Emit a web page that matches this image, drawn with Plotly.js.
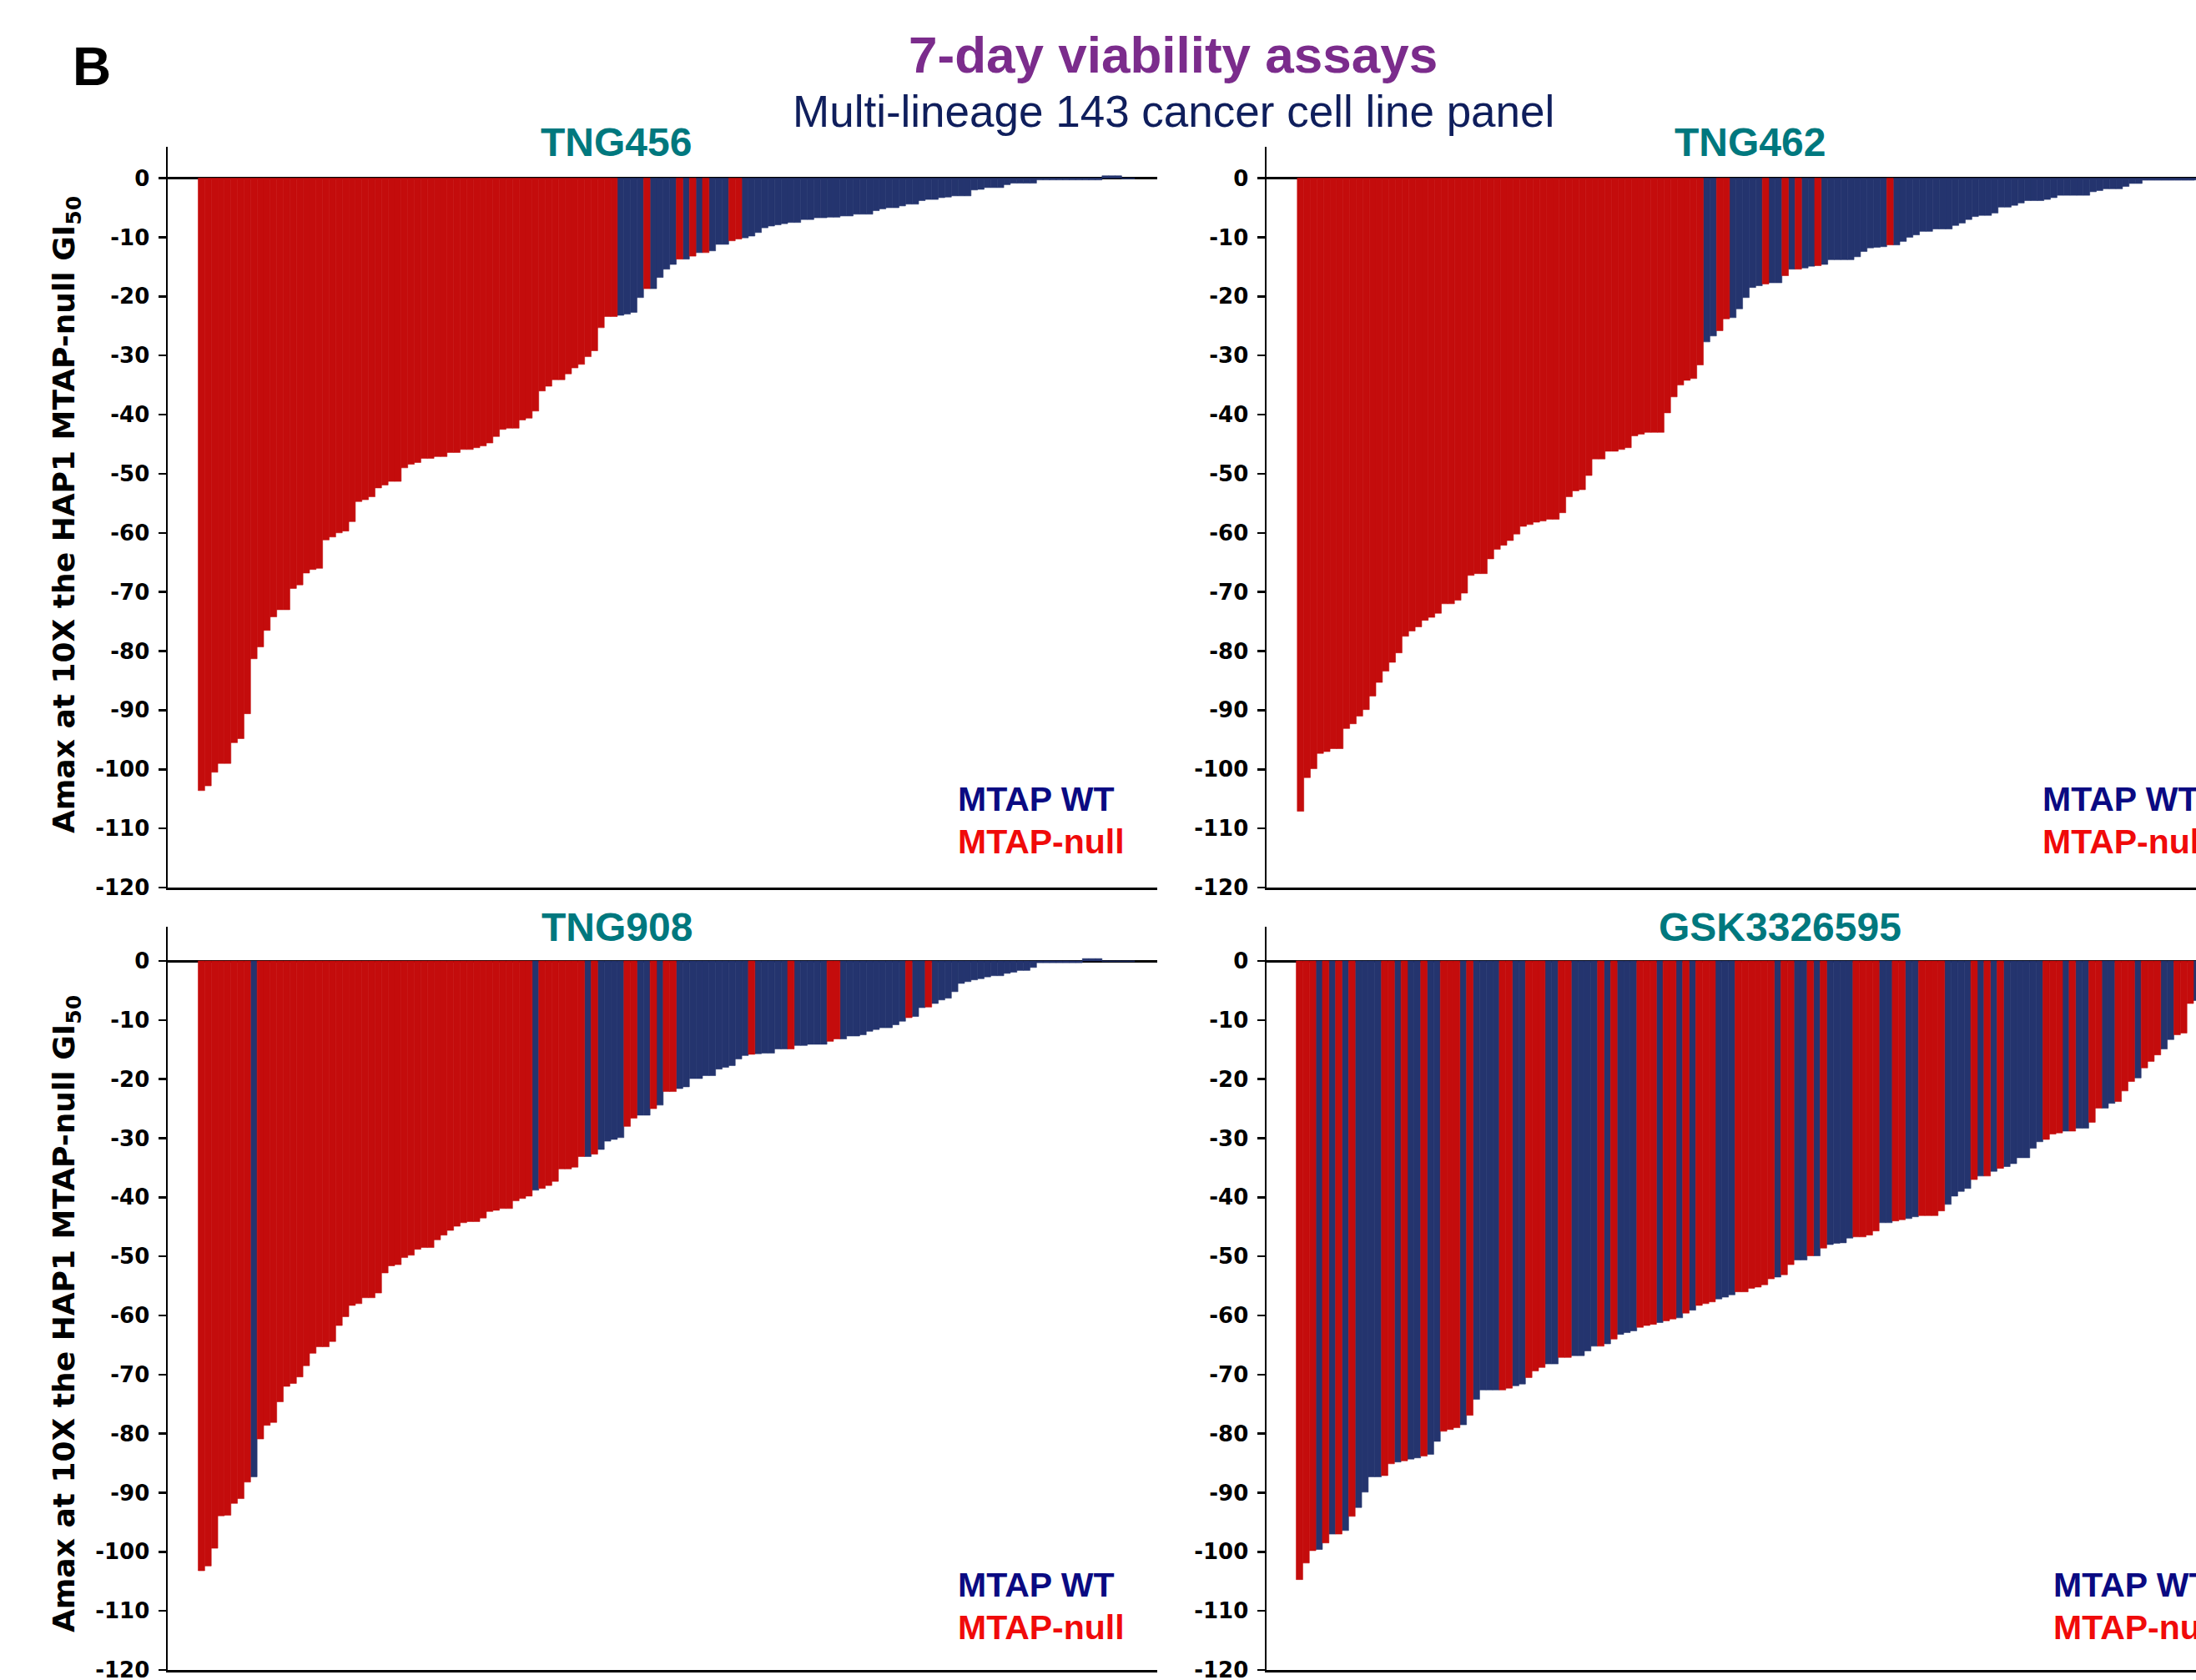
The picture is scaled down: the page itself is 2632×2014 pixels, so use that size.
<!DOCTYPE html>
<html>
<head>
<meta charset="utf-8">
<script src="https://cdn.plot.ly/plotly-3.0.1.min.js"></script>
<style>
html,body{margin:0;padding:0;background:#fff;overflow:hidden;}
#chart{width:2632px;height:2014px;}
</style>
</head>
<body>
<div id="chart"></div>
<script>
// ---------------- DATA ----------------
// status: N = MTAP-null, W = MTAP WT (one character per cell line, rank order)
const tng456Values = [
-103.6,-102.8,-100.5,-99,-99,-95.5,-94.8,-90.6,-81.3,-79.3,
-76.5,-74.2,-73,-73,-69.4,-68.8,-66.8,-66.2,-66,-61.2,
-60.7,-60,-59.7,-58.1,-54.7,-54.4,-53.9,-52.4,-51.9,-51.3,
-51.3,-49,-48.4,-48.1,-47.4,-47.4,-47.1,-47.1,-46.4,-46.4,
-45.9,-45.9,-45.6,-45.3,-44.8,-43.7,-42.5,-42.3,-42.3,-40.9,
-40.6,-39.4,-36,-35.2,-34.1,-34.1,-33.1,-32.1,-31.5,-30.2,
-29.2,-25.3,-23.4,-23.4,
-23.2,-23.0,-22.7,-20.2,-18.7,-18.7,-16.8,-15.4,-14.6,-13.7,
-13.7,-13.2,-12.6,-12.6,-12.3,-11.2,-11.2,-10.6,-10.3,-10.1,
-9.8,-9.2,-8.4,-8.1,-7.9,-7.7,-7.5,-7.5,-7.0,-7.0,
-6.7,-6.7,-6.6,-6.6,-6.4,-6.4,-6.1,-6.1,-6.1,-5.5,
-5.2,-5.0,-5.0,-4.7,-4.4,-4.4,-3.8,-3.6,-3.6,-3.3,
-3.2,-3.0,-3.0,-3.0,-2.0,-1.9,-1.6,-1.6,-1.6,-1.1,
-0.85,-0.85,-0.85,-0.85,-0.3,-0.3,-0.3,-0.3,-0.3,-0.3,
-0.3,-0.3,-0.3,-0.3,0.4,0.4,0.4,-0.1,-0.1
];
const tng456Status =
"NNNNNNNNNNNNNNNNNNNNNNNNNNNNNNNNNNNNNNNNNNNNNNNNNNNNNNNNNNNNNNNN" +
"WWWWNWWWWNWNWNWWWNN" +
"WWWWWWWWWWWWWWWWWWWWWWWWWWWWWWWWWWWWWWWWWWWWWWWWWWWWWWWWWWWW";

const tng462Values = [
-107.1,-101.4,-99.9,-97.3,-97,-96.5,-96.5,-93.1,-92.3,-91,
-89.9,-87.6,-85.3,-83.4,-81.9,-80.3,-77.5,-76.6,-75.9,-74.8,
-74.3,-73.6,-72,-72,-71.4,-70.2,-67.2,-66.9,-66.9,-64.4,
-62.8,-62.1,-61.3,-60.2,-58.9,-58.6,-58.2,-58,-57.7,-57.7,
-56.6,-53.9,-52.9,-52.7,-50.3,-47.5,-47.5,-46.2,-46.2,-45.9,
-45.6,-43.6,-43.3,-43,-43,-43,-39.7,-37,-35,-34.2,
-33.9,-31.6,
-27.7,-26.7,-25.8,-23.8,-23.6,-22.1,-20.2,-18.5,-18.2,-17.9,
-17.7,-17.7,-16.5,-15.4,-15.4,-15.2,-14.9,-14.8,-14.6,-13.8,
-13.8,-13.8,-13.8,-13.3,-12.4,-11.8,-11.7,-11.6,-11.3,-11.3,
-10.7,-10.0,-9.6,-9.0,-9.0,-8.6,-8.6,-8.6,-8.0,-7.6,
-7.0,-6.5,-6.3,-6.3,-5.9,-4.9,-4.9,-4.6,-4.2,-3.8,
-3.8,-3.8,-3.6,-3.3,-2.9,-2.9,-2.9,-2.9,-2.9,-2.3,
-2.1,-1.8,-1.8,-1.8,-1.4,-0.9,-0.9,
-0.35,-0.35,-0.35,-0.35,-0.35,-0.35,-0.35,-0.35,
-0.3,-0.3,0.2,0.2,-0.1,-0.1
];
const tng462Status =
"NNNNNNNNNNNNNNNNNNNNNNNNNNNNNNNNNNNNNNNNNNNNNNNNNNNNNNNNNNNNNN" +
"WWNNWWWWWNWWNWNWWNWWWWWWWWWWN" +
"WWWWWWWWWWWWWWWWWWWWWWWWWWWWWWWWWWWWWWWWWWWWWWWWWWWW";

const tng908Values = [
-103.2,-102.4,-99.4,-93.9,-93.8,-91.8,-91.0,-88.2,-87.3,-80.9,
-78.6,-78.1,-74.6,-72.0,-71.5,-70.4,-68.5,-66.4,-65.3,-65.3,
-64.4,-61.7,-60.2,-58.3,-58.0,-57.0,-57.0,-56.2,-52.8,-51.6,
-51.4,-50.2,-49.8,-48.8,-48.5,-48.5,-47.2,-46.4,-45.6,-44.9,
-44.3,-44.1,-44.1,-43.5,-42.4,-42.2,-41.9,-41.9,-40.6,-40.2,
-39.8,-38.8,-38.5,-38.0,-37.3,-35.2,-35.2,-34.9,-33.1,-33.1,
-32.7,-31.9,-30.5,-30.2,-29.9,-28.0,-26.6,-26.1,-26.1,-25.0,
-24.4,-22.1,-22.1,-21.6,-21.3,-19.9,-19.9,-19.4,-19.4,-18.3,
-18.0,-17.7,-16.6,-16.0,-15.8,-15.7,-15.6,-15.6,-14.9,-14.9,
-14.9,-14.3,-14.3,-14.1,-14.1,-14.1,-13.6,-13.2,-13.2,-12.7,
-12.7,-12.5,-11.9,-11.6,-11.3,-11.3,-10.8,-10.2,-9.6,-9.4,
-7.9,-7.8,-7.2,-6.6,-6.3,-5.2,-3.8,-3.5,-3.2,-3.0,
-2.7,-2.5,-2.5,-2.1,-1.9,-1.6,-1.6,-1.1,
-0.3,-0.3,-0.3,-0.3,-0.3,-0.3,-0.3,0.4,0.4,0.4,
-0.1,-0.1,-0.1,-0.1,-0.1
];
const tng908Status =
"NNNNNNNNW" +
"NNNNNNNNNNNNNNNNNNNNNNNNNNNNNNNNNNNNNNNNNN" +
"WNNNNNNNWNWWWWNNWWNWNNWWWWWWWWWWWNWWWWWNWWWWWNNWWWWWWWWWWNWWNW" +
"WWWWWWWWWWWWWWWWWWWWWWWWWWWWWWW";

const gskValues = [
-104.7,-101.9,-99.8,-99.6,-98.5,-97.0,-97.0,-96.4,-94.0,-92.5,
-89.9,-87.3,-87.3,-87.1,-85.1,-84.8,-84.6,-84.3,-84.1,-83.8,
-83.5,-81.3,-79.6,-79.3,-79.0,-78.5,-76.9,-74.2,-72.6,-72.6,
-72.6,-72.6,-72.3,-71.9,-71.6,-70.5,-69.4,-68.8,-68.2,-68.2,
-67.1,-67.1,-66.8,-66.8,-66.0,-65.2,-65.2,-64.8,-64.0,-63.2,
-62.9,-62.6,-62.0,-61.7,-61.5,-61.2,-60.9,-60.6,-60.4,-59.6,
-59.1,-58.3,-58.0,-57.7,-57.2,-56.9,-56.5,-56.0,-56.0,-55.4,
-55.2,-54.8,-53.8,-53.5,-53.1,-51.4,-50.6,-50.6,-49.9,-49.9,
-48.6,-48.0,-47.8,-47.7,-46.9,-46.7,-46.7,-46.4,-45.7,-44.3,
-44.3,-44.0,-43.8,-43.6,-43.3,-43.1,-43.1,-43.1,-42.3,-41.2,
-39.8,-39.0,-38.5,-37.0,-36.4,-36.4,-35.6,-35.1,-34.8,-34.3,
-33.3,-33.3,-31.7,-30.6,-30.2,-29.3,-29.1,-28.8,-28.8,-28.3,
-28.3,-27.3,-24.9,-24.9,-24.1,-23.8,-22.0,-20.4,-19.8,-18.1,
-17.0,-15.9,-14.9,-13.3,-12.5,-12.2,-7.2,-6.7,-5.5,-4.5,
-3.5,-2.5,-1.5
];
const gskStatus =
"NNNWNWNWNWWWWNNWNWWNWWNNNWNWWWWNNWWNNNWWNNWWWWNWNWWWNNNWNNWNWNNNWWWNNNNNNWNNWWNWNWWWWNNNNWWNNWWNNNNWWWWNWNWNWWWWWWNNNWNWWNNWWNNNWNNNWWNNNWNWWN";

const tickVals  = [0,-10,-20,-30,-40,-50,-60,-70,-80,-90,-100,-110,-120];
const tickTexts = ["0","-10","-20","-30","-40","-50","-60","-70","-80","-90","-100","-110","-120"];
const drugNames = ["TNG456","TNG462","TNG908","GSK3326595"];
const legendLabels = ["MTAP WT","MTAP-null"];
const mainTitle = "7-day viability assays";
const subTitle = "Multi-lineage 143 cancer cell line panel";
const yTitle = "Amax at 10X the HAP1 MTAP-null GI<sub>50</sub>";
const panelLetter = "B";

// ---------------- STYLE ----------------
const W = 2632, H = 2014;
const px = x => x / W;
const py = y => 1 - y / H;
const RED = "#C40C0C", BLUE = "#24346E";
const ARIAL = "Liberation Sans, Arial, sans-serif";
const WIDE = "DejaVu Sans, Verdana, sans-serif";

function barTraces(values, status, xa, ya){
  const groups = {N:{x:[],y:[]}, W:{x:[],y:[]}};
  values.forEach((v,i)=>{ const s = status[i] || "W"; groups[s].x.push(i); groups[s].y.push(v); });
  return [
    {type:"bar", x:groups.W.x, y:groups.W.y, width:1, xaxis:xa, yaxis:ya,
     marker:{color:BLUE, line:{color:BLUE, width:0.6}}, hoverinfo:"skip", showlegend:false},
    {type:"bar", x:groups.N.x, y:groups.N.y, width:1, xaxis:xa, yaxis:ya,
     marker:{color:RED, line:{color:RED, width:0.6}}, hoverinfo:"skip", showlegend:false}
  ];
}

const data = [].concat(
  barTraces(tng456Values, tng456Status, "x", "y"),
  barTraces(tng462Values, tng462Status, "x2", "y2"),
  barTraces(tng908Values, tng908Status, "x3", "y3"),
  barTraces(gskValues, gskStatus, "x4", "y4")
);

function xAx(domain, range, anchor){
  return {domain:domain, range:range, anchor:anchor, showgrid:false, zeroline:false,
    showticklabels:false, ticks:"", showline:true, linecolor:"#000", linewidth:2.5,
    fixedrange:true};
}
function yAx(domain, range, anchor){
  return {domain:domain, range:range, anchor:anchor, showgrid:false,
    zeroline:true, zerolinecolor:"#000", zerolinewidth:3,
    showline:true, linecolor:"#000", linewidth:2.5,
    ticks:"outside", ticklen:9, tickwidth:2.5, tickcolor:"#000",
    tickmode:"array", tickvals:tickVals, ticktext:tickTexts,
    ticklabelstandoff:5, ticklabeloverflow:"allow",
    tickfont:{family:WIDE, size:26, color:"#000", weight:"bold"}, fixedrange:true};
}

const topY = [py(1064), py(176)], botY = [py(2002), py(1111)];
const leftX = [px(201), px(1387)], rightX = [px(1518), 1];

const layout = {
  width:W, height:H, margin:{l:0,r:0,t:0,b:0},
  paper_bgcolor:"#fff", plot_bgcolor:"rgba(0,0,0,0)",
  barmode:"overlay", bargap:0, showlegend:false,
  xaxis:  xAx(leftX,  [-5.15, 145.93], "y"),
  yaxis:  yAx(topY,   [-120, 5.3], "x"),
  xaxis2: xAx(rightX, [-5.19, 136.72], "y2"),
  yaxis2: yAx(topY,   [-120, 5.3], "x2"),
  xaxis3: xAx(leftX,  [-5.15, 145.93], "y3"),
  yaxis3: yAx(botY,   [-120, 5.79], "x3"),
  xaxis4: xAx(rightX, [-5.03, 136.88], "y4"),
  yaxis4: yAx(botY,   [-120, 5.79], "x4"),
  annotations: []
};

function ann(text, x, y, font, opts){
  return Object.assign({text:text, x:px(x), y:py(y), xref:"paper", yref:"paper",
    showarrow:false, xanchor:"center", yanchor:"middle", font:font}, opts||{});
}
const A = layout.annotations;
A.push(ann(panelLetter, 110, 80, {family:ARIAL, size:64, color:"#000", weight:"bold"}));
A.push(ann(mainTitle, 1406, 65, {family:ARIAL, size:62, color:"#7B2C8C", weight:"bold"}));
A.push(ann(subTitle, 1407, 134, {family:ARIAL, size:53, color:"#0F1E5C"}));
const titleFont = {family:ARIAL, size:48, color:"#00787E", weight:"bold"};
A.push(ann(drugNames[0], 738, 171, titleFont));
A.push(ann(drugNames[1], 2097, 171, titleFont));
A.push(ann(drugNames[2], 739, 1111, titleFont));
A.push(ann(drugNames[3], 2133, 1111, titleFont));
const wtFont = {family:ARIAL, size:41, color:"#0A0A82", weight:"bold"};
const nullFont = {family:ARIAL, size:41, color:"#F00A0A", weight:"bold"};
[[1146,958,1009],[2446,958,1009],[1146,1900,1951],[2459,1900,1951]].forEach(p=>{
  A.push(ann(legendLabels[0], p[0], p[1], wtFont, {xanchor:"left"}));
  A.push(ann(legendLabels[1], p[0], p[2], nullFont, {xanchor:"left"}));
});
const ytFont = {family:WIDE, size:36, color:"#000", weight:"bold"};
A.push(ann(yTitle, 79, 617, ytFont, {textangle:-90}));
A.push(ann(yTitle, 79, 1575, ytFont, {textangle:-90}));

Plotly.newPlot("chart", data, layout, {staticPlot:true, displayModeBar:false});
</script>
</body>
</html>
